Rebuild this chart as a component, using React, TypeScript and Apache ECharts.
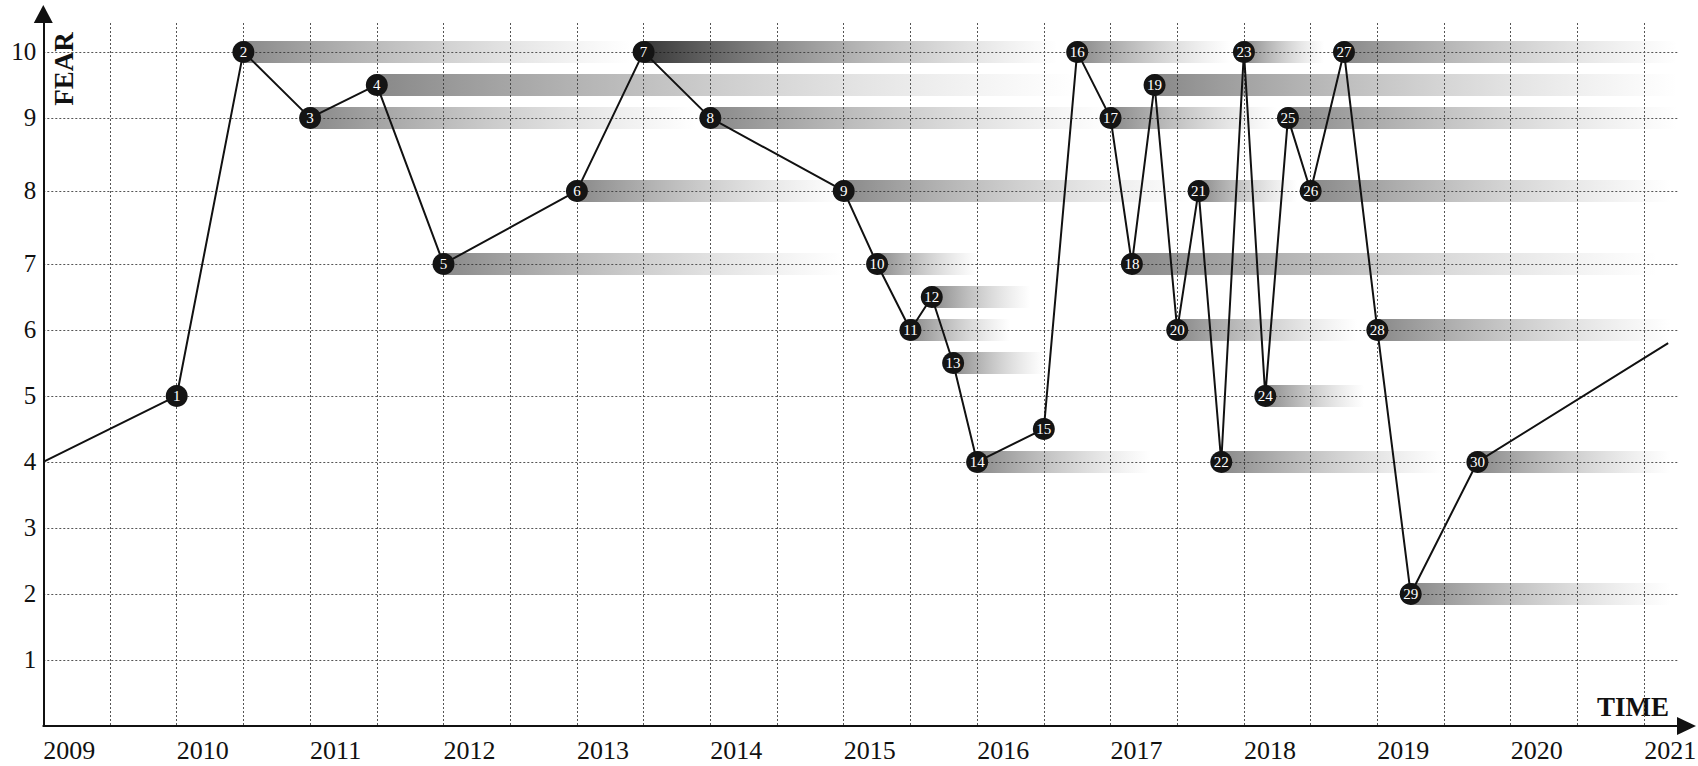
import React, { useEffect, useRef } from "react";
import * as echarts from "echarts";

// ---- data ----
const pointYears = [
  2010, 2010.5, 2011, 2011.5, 2012, 2013, 2013.5, 2014, 2015, 2015.25,
  2015.5, 2015.66, 2015.82, 2016, 2016.5, 2016.75, 2017, 2017.16, 2017.33, 2017.5,
  2017.66, 2017.83, 2018, 2018.16, 2018.33, 2018.5, 2018.75, 2019, 2019.25, 2019.75,
];
const pointFear = [
  5, 10, 9, 9.5, 7, 8, 10, 9, 8, 7,
  6, 6.5, 5.5, 4, 4.5, 10, 9, 7, 9.5, 6,
  8, 4, 10, 5, 9, 8, 10, 6, 2, 4,
];
// where each point's fading band ends (null = no band)
const bandEnds: (number | null)[] = [
  null, 2013.4, 2013.9, 2016.75, 2015, 2015, 2016.6, 2017, 2017.6, 2016,
  2016.25, 2016.4, 2016.5, 2017.3, null, 2017.9, 2018.25, 2021.1, 2021.25, 2018.85,
  2018.4, 2019.5, 2018.6, 2018.9, 2021.25, 2021.2, 2021.25, 2021.2, 2021.2, 2021.2,
];
const lineStart = [2009, 4];
const lineEnd = [2021.18, 5.8];
const yearLabels = [2009, 2010, 2011, 2012, 2013, 2014, 2015, 2016, 2017, 2018, 2019, 2020, 2021];
const halfYearLines = [
  2009.5, 2010, 2010.5, 2011, 2011.5, 2012, 2012.5, 2013, 2013.5, 2014, 2014.5, 2015,
  2015.5, 2016, 2016.5, 2017, 2017.5, 2018, 2018.5, 2019, 2019.5, 2020, 2020.5, 2021,
];
const fearLevels = [1, 2, 3, 4, 5, 6, 7, 8, 9, 10];

// the drawn fear scale is slightly stretched between 7 and 9
const STRETCH = 73 / 66;
const warp = (v: number) => {
  if (v <= 7) return v;
  if (v <= 9) return 7 + (v - 7) * STRETCH;
  return 7 + 2 * STRETCH + (v - 9);
};
const unwarp = (w: number) => {
  if (w <= 7) return w;
  if (w <= 7 + 2 * STRETCH) return 7 + (w - 7) / STRETCH;
  return 9 + (w - 7 - 2 * STRETCH);
};

const SERIF = "'Liberation Serif', 'DejaVu Serif', serif";

export default function App() {
  const ref = useRef<HTMLDivElement>(null);
  useEffect(() => {
    if (!ref.current) return;
    const chart = echarts.init(ref.current, undefined, { renderer: "svg" });

    const lineData: any[] = [
      { value: [lineStart[0], warp(lineStart[1]), ""], symbol: "none", label: { show: false } },
      ...pointYears.map((x, i) => ({ value: [x, warp(pointFear[i]), String(i + 1)] })),
      { value: [lineEnd[0], warp(lineEnd[1]), ""], symbol: "none", label: { show: false } },
    ];

    const bandData: any[] = [];
    pointYears.forEach((x, i) => {
      const e = bandEnds[i];
      if (e != null) bandData.push([x, warp(pointFear[i]), e, i + 1]);
    });

    const darkBands = new Set([7]);

    chart.setOption({
      animation: false,
      backgroundColor: "#ffffff",
      grid: { left: 43.3, right: 20.5, top: 23, bottom: 40, outerBoundsMode: "none", containLabel: false },
      xAxis: {
        type: "value",
        min: 2009,
        max: 2021.25,
        axisLine: {
          show: true,
          lineStyle: { color: "#111", width: 2 },
          symbol: ["none", "triangle"],
          symbolSize: [18, 19],
          symbolOffset: [0, 9],
        },
        axisTick: { show: false, customValues: halfYearLines },
        axisLabel: {
          customValues: yearLabels,
          formatter: (v: number) => String(Math.round(v)),
          align: "left",
          margin: 11,
          fontSize: 26,
          fontFamily: SERIF,
          color: "#111",
        },
        splitLine: { show: true, lineStyle: { color: "#555", width: 1, type: [2, 2] } },
      },
      yAxis: {
        type: "value",
        min: 0,
        max: 10.65,
        axisLine: {
          show: true,
          lineStyle: { color: "#111", width: 2 },
          symbol: ["none", "triangle"],
          symbolSize: [19, 18],
          symbolOffset: [0, 9],
        },
        axisTick: { show: false, customValues: fearLevels.map(warp) },
        axisLabel: {
          customValues: fearLevels.map(warp),
          formatter: (v: number) => String(Math.round(unwarp(v))),
          margin: 7,
          fontSize: 25,
          fontFamily: SERIF,
          color: "#111",
        },
        splitLine: { show: true, lineStyle: { color: "#555", width: 1, type: [2, 2] } },
      },
      graphic: [
        {
          type: "text",
          x: 64,
          y: 69,
          rotation: Math.PI / 2,
          style: {
            text: "FEAR",
            fontFamily: SERIF,
            fontWeight: "bold",
            fontSize: 27,
            fill: "#111",
            align: "center",
            verticalAlign: "middle",
          },
        },
        {
          type: "text",
          x: 1633,
          y: 707,
          style: {
            text: "TIME",
            fontFamily: SERIF,
            fontWeight: "bold",
            fontSize: 27,
            fill: "#111",
            align: "center",
            verticalAlign: "middle",
          },
        },
      ],
      series: [
        {
          type: "custom",
          z: 1,
          data: bandData,
          silent: true,
          renderItem: (params: any, api: any) => {
            const s = api.coord([api.value(0), api.value(1)]);
            const e = api.coord([api.value(2), api.value(1)]);
            const h = 22;
            const dark = darkBands.has(api.value(3));
            return {
              type: "rect",
              shape: { x: s[0], y: s[1] - h / 2, width: e[0] - s[0], height: h },
              style: {
                fill: new echarts.graphic.LinearGradient(0, 0, 1, 0, [
                  { offset: 0, color: dark ? "rgba(20,20,20,0.85)" : "rgba(40,40,40,0.55)" },
                  { offset: 1, color: "rgba(120,120,120,0)" },
                ]),
              },
            };
          },
        },
        {
          type: "line",
          z: 3,
          data: lineData,
          symbol: "circle",
          symbolSize: 22,
          itemStyle: { color: "#141414" },
          lineStyle: { color: "#111", width: 2 },
          label: {
            show: true,
            position: "inside",
            formatter: (p: any) => p.value[2],
            color: "#fff",
            fontSize: 15,
            fontFamily: SERIF,
          },
          emphasis: { disabled: true },
        },
      ],
    });
    return () => chart.dispose();
  }, []);
  return (
    <div
      ref={ref}
      style={{ position: "fixed", left: 0, top: 0, width: 1698, height: 766, background: "#fff" }}
    />
  );
}
